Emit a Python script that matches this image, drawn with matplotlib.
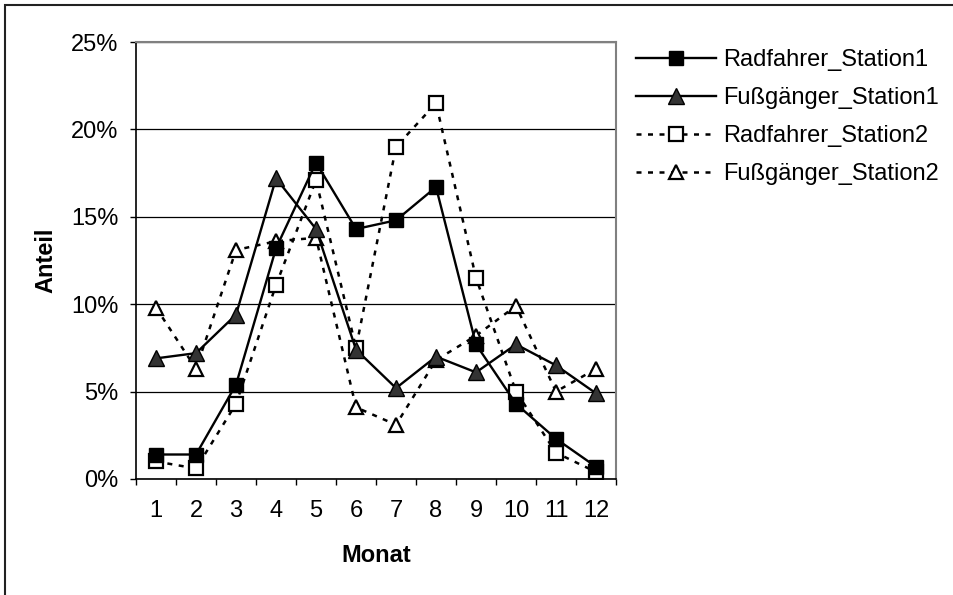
# Anteil Radfahrer / Fußgänger pro Monat an zwei Zählstellen
import numpy as np
import matplotlib.pyplot as plt
from matplotlib.ticker import PercentFormatter, MultipleLocator, FixedLocator
from matplotlib.patches import Rectangle

plt.rcParams['font.family'] = ['Liberation Sans', 'DejaVu Sans']

monate = [1, 2, 3, 4, 5, 6, 7, 8, 9, 10, 11, 12]
rad_st1 = [1.4, 1.4, 5.4, 13.2, 18.1, 14.3, 14.8, 16.7, 7.7, 4.3, 2.3, 0.7]
fuss_st1 = [6.9, 7.2, 9.4, 17.2, 14.3, 7.4, 5.2, 7.0, 6.1, 7.7, 6.5, 4.9]
rad_st2 = [1.0, 0.6, 4.3, 11.1, 17.1, 7.5, 19.0, 21.5, 11.5, 5.0, 1.5, 0.4]
fuss_st2 = [9.8, 6.3, 13.1, 13.6, 13.8, 4.1, 3.1, 6.8, 8.2, 9.9, 5.0, 6.3]

fig = plt.figure(figsize=(9.54, 5.95), dpi=100)
ax = fig.add_axes([0.1426, 0.195, 0.5031, 0.7344])

x = np.arange(1, len(monate) + 1)
dash = (0, (2, 2.6))

ax.plot(x, rad_st1, color='black', lw=1.7, marker='s', ms=10,
        mfc='black', mec='black', label='Radfahrer_Station1', zorder=4)
ax.plot(x, fuss_st1, color='black', lw=1.7, marker='^', ms=11,
        mfc='#333333', mec='black', label='Fußgänger_Station1', zorder=4)
ax.plot(x, rad_st2, color='black', lw=1.8, ls=dash, marker='s', ms=9.5,
        mfc='white', mec='black', mew=1.6, label='Radfahrer_Station2', zorder=3)
ax.plot(x, fuss_st2, color='black', lw=1.8, ls=dash, marker='^', ms=10,
        mfc='white', mec='black', mew=1.6, label='Fußgänger_Station2', zorder=3)

ax.set_xlim(0.5, len(monate) + 0.5)
ax.set_ylim(0, 25)
ax.yaxis.set_major_locator(MultipleLocator(5))
ax.yaxis.set_major_formatter(PercentFormatter(decimals=0))
ax.grid(axis='y', color='black', lw=0.9)
ax.set_axisbelow(True)

ax.set_xticks(x)
ax.set_xticklabels([str(m) for m in monate])
ax.xaxis.set_minor_locator(FixedLocator(np.arange(0.5, len(monate) + 1, 1)))
ax.tick_params(axis='x', which='major', length=0, pad=15, labelsize=17)
ax.tick_params(axis='x', which='minor', length=4.5, width=1, direction='out')
ax.tick_params(axis='y', length=4.5, width=1, pad=8, labelsize=17)

for s in ['top', 'right']:
    ax.spines[s].set_color('#808080')
    ax.spines[s].set_linewidth(1.5)
for s in ['left', 'bottom']:
    ax.spines[s].set_color('black')
    ax.spines[s].set_linewidth(1.2)

ax.set_xlabel('Monat', fontsize=17, fontweight='bold')
ax.set_ylabel('Anteil', fontsize=17, fontweight='bold')
ax.xaxis.label.set_va('center')
ax.yaxis.label.set_va('center')
ax.xaxis.set_label_coords(0.5, -0.174)
ax.yaxis.set_label_coords(-0.188, 0.5)

fig.legend(loc='upper left', bbox_to_anchor=(0.6667, 0.918), frameon=False,
           fontsize=17, handlelength=3.4, handletextpad=0.3,
           labelspacing=0.68, borderpad=0, borderaxespad=0)

fig.patches.append(Rectangle((5 / 954, -0.1), 1.2, 1.1 - 5 / 595,
                             transform=fig.transFigure, fill=False,
                             lw=1.5, ec='#222222'))

fig.savefig('out.png', dpi=100)
